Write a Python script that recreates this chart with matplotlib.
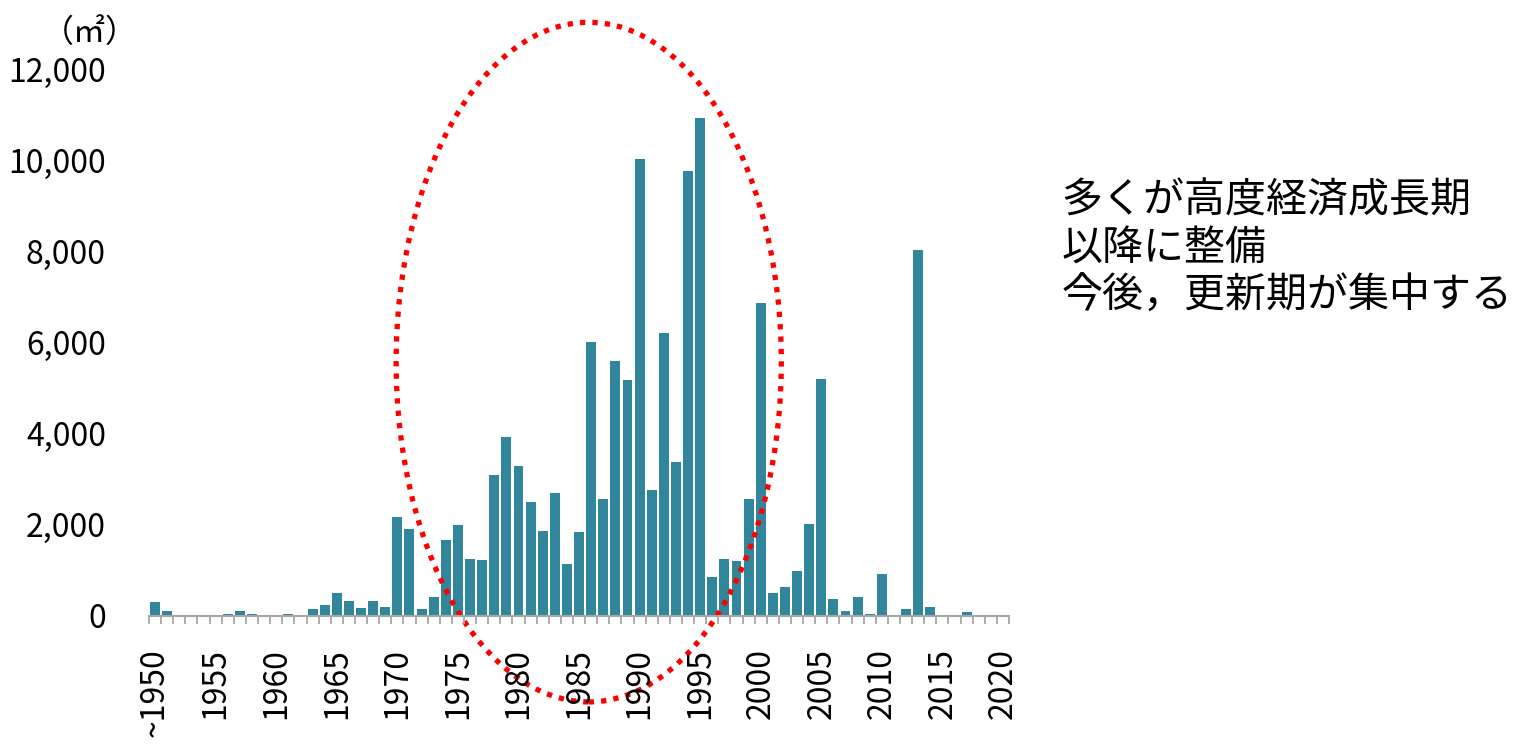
import numpy as np
import matplotlib.pyplot as plt
from matplotlib.patches import Ellipse

plt.rcParams['font.family'] = ['Noto Sans CJK JP', 'DejaVu Sans']

# 整備年度ごとの面積 (m2), 1950(以前) - 2020
years = list(range(1950, 2021))
area = [
    300, 110, 0, 0, 0, 10, 50, 100, 50, 30,            # 1950-1959
    30, 50, 30, 160, 230, 510, 320, 180, 320, 200,     # 1960-1969
    2180, 1910, 160, 420, 1670, 2000, 1250, 1230, 3100, 3930,   # 1970-1979
    3290, 2500, 1870, 2700, 1140, 1850, 6010, 2570, 5600, 5180, # 1980-1989
    10020, 2760, 6210, 3380, 9760, 10920, 860, 1250, 1210, 2570,  # 1990-1999
    6860, 500, 640, 990, 2020, 5200, 380, 110, 420, 45,  # 2000-2009
    930, 0, 160, 8030, 200, 0, 0, 90, 0, 0,              # 2010-2019
    0,                                                    # 2020
]
xlabels = ['~1950' if y == 1950 else str(y) if y % 5 == 0 else '' for y in years]
yticks = [0, 2000, 4000, 6000, 8000, 10000, 12000]
note = '多くが高度経済成長期\n以降に整備\n今後，更新期が集中する'

fig = plt.figure(figsize=(15.27, 7.47), dpi=100)
ax = fig.add_axes([0.0976, 0.1754, 0.5632, 0.7322])

x = np.arange(len(years))
ax.bar(x, area, width=0.82, color='#31869B')

ax.set_xlim(-0.5, len(years) - 0.5)
ax.set_ylim(0, 12000)

# 目盛り
ax.set_xticks(x[::5])
ax.set_xticklabels([xlabels[i] for i in x[::5]], rotation=90, fontsize=23)
ax.set_xticks(np.arange(-0.5, len(years), 1), minor=True)
ax.tick_params(axis='x', which='major', length=0, pad=23)
ax.tick_params(axis='x', which='minor', length=6, width=1.3, color='#A6A6A6')
ax.set_yticks(yticks)
ax.set_yticklabels([f'{v:,}' for v in yticks], fontsize=23)
ax.tick_params(axis='y', length=0, pad=31)

for s in ['left', 'top', 'right']:
    ax.spines[s].set_visible(False)
ax.spines['bottom'].set_color('#A6A6A6')
ax.spines['bottom'].set_linewidth(1.5)

# 単位
fig.text(0.059, 0.956, '（㎡）', fontsize=23, ha='center', va='center')

# 赤い点線の楕円
ell = Ellipse((35.8, 5570), 31.8, 14910, fill=False, edgecolor='#FF0000',
              linewidth=3.8, linestyle=(0, (1, 1.35)), clip_on=False)
ax.add_patch(ell)

fig.text(0.695, 0.667, note, fontsize=29.5, ha='left', va='center', linespacing=1.2)

fig.savefig('out.png', dpi=100)
